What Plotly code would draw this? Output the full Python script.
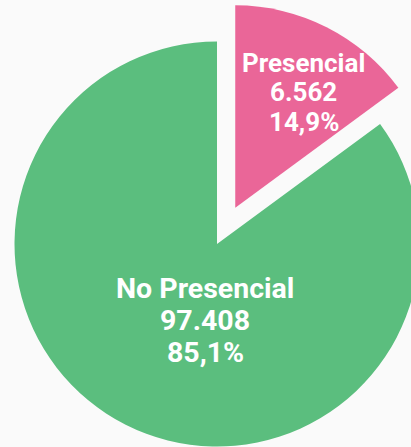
import plotly.graph_objects as go

labels = ["Presencial", "No Presencial"]
cantidad = [6562, 97408]
porcentaje = [14.9, 85.1]
colores = ["#EA6698", "#5BBE7E"]

fig = go.Figure(go.Pie(
    labels=labels,
    values=porcentaje,
    sort=False,
    direction="clockwise",
    rotation=0,
    pull=[0.2, 0],
    marker=dict(colors=colores, line=dict(width=0)),
    textinfo="none",
    hoverinfo="skip",
    showlegend=False,
))

# etiquetas: una anotacion por linea para controlar el interlineado
anclas = [(0.679, 0.812, 26, 29.5), (0.4763, 0.3416, 28.5, 32)]
for i, lab in enumerate(labels):
    x, y, tam, paso = anclas[i]
    lineas = [lab,
              f"{cantidad[i]:,}".replace(",", "."),
              f"{porcentaje[i]:.1f}".replace(".", ",") + "%"]
    for j, t in enumerate(lineas):
        fig.add_annotation(
            x=x, y=y, xref="paper", yref="paper",
            text=t, showarrow=False,
            xanchor="center", yanchor="middle",
            yshift=paso * (1 - j),
            font=dict(family="Roboto", size=tam, color="white", weight=700),
        )

fig.update_layout(
    width=486, height=486,
    margin=dict(l=0, r=0, t=0, b=0),
    paper_bgcolor="#FAFAFA",
    plot_bgcolor="#FAFAFA",
)

post = ("var gd=document.getElementById('{plot_id}');"
        "document.body.style.margin='0';"
        "document.body.style.overflow='hidden';"
        "document.body.style.background='#FAFAFA';"
        "gd.style.position='absolute';"
        "gd.style.left='-26px';"
        "gd.style.top='1px';")

fig.write_html("out.html", post_script=post)
